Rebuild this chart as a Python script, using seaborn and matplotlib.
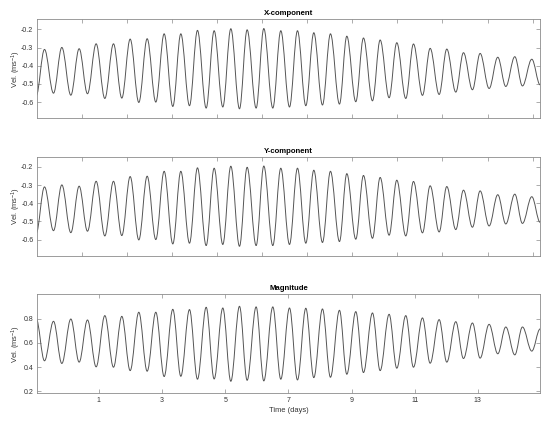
import numpy as np
import pandas as pd
import matplotlib
matplotlib.use("Agg")
import matplotlib.pyplot as plt
from matplotlib.path import Path
from matplotlib.patches import PathPatch
import seaborn as sns

# ---------------- data ----------------
# times (days) of the minima / maxima of the X and Y components
x_trough_days = [-0.984, -0.435, 0.114, 0.641, 1.190, 1.728, 2.266, 2.804, 3.342, 3.870,
                 4.398, 4.925, 5.453, 5.980, 6.508, 7.036, 7.553, 8.080, 8.618, 9.135,
                 9.663, 10.190, 10.718, 11.246, 11.774, 12.301, 12.828, 13.356, 13.884,
                 14.411, 14.971]
x_peak_days = [-0.720, -0.171, 0.377, 0.915, 1.464, 1.992, 2.530, 3.068, 3.596, 4.123,
               4.651, 5.179, 5.695, 6.223, 6.761, 7.289, 7.806, 8.333, 8.851, 9.378,
               9.906, 10.433, 10.961, 11.489, 12.016, 12.544, 13.071, 13.630, 14.169,
               14.707]

x_trough_vals = [-0.565, -0.551, -0.562, -0.554, -0.580, -0.578, -0.602, -0.600, -0.624,
                 -0.620, -0.633, -0.627, -0.637, -0.633, -0.633, -0.627, -0.620, -0.616,
                 -0.611, -0.598, -0.593, -0.576, -0.580, -0.563, -0.558, -0.545, -0.532,
                 -0.525, -0.514, -0.511, -0.505]
x_peak_vals = [-0.310, -0.299, -0.306, -0.279, -0.279, -0.253, -0.251, -0.224, -0.224,
               -0.205, -0.207, -0.196, -0.202, -0.195, -0.207, -0.207, -0.218, -0.224,
               -0.237, -0.247, -0.258, -0.273, -0.280, -0.304, -0.308, -0.328, -0.332,
               -0.353, -0.350, -0.364]

y_trough_vals = [-0.565, -0.551, -0.562, -0.554, -0.580, -0.578, -0.602, -0.600, -0.624,
                 -0.620, -0.633, -0.627, -0.637, -0.633, -0.633, -0.627, -0.620, -0.616,
                 -0.611, -0.598, -0.593, -0.576, -0.580, -0.563, -0.558, -0.545, -0.532,
                 -0.525, -0.514, -0.511, -0.505]
y_peak_vals = [-0.310, -0.299, -0.306, -0.279, -0.279, -0.253, -0.251, -0.224, -0.224,
               -0.205, -0.207, -0.196, -0.202, -0.195, -0.207, -0.207, -0.218, -0.224,
               -0.237, -0.247, -0.258, -0.273, -0.280, -0.304, -0.308, -0.328, -0.332,
               -0.353, -0.350, -0.364]

# magnitude: maxima occur at the X-minimum times, minima at the X-maximum times
mag_max_days = x_trough_days
mag_min_days = x_peak_days
mag_max_vals = [0.800, 0.778, 0.797, 0.789, 0.825, 0.819, 0.853, 0.853, 0.877, 0.875,
                0.894, 0.888, 0.902, 0.897, 0.897, 0.888, 0.886, 0.880, 0.869, 0.858,
                0.847, 0.836, 0.825, 0.806, 0.792, 0.775, 0.764, 0.753, 0.731, 0.731,
                0.715]
mag_min_vals = [0.452, 0.430, 0.441, 0.402, 0.399, 0.371, 0.366, 0.322, 0.324, 0.300,
                0.302, 0.283, 0.291, 0.286, 0.300, 0.294, 0.313, 0.316, 0.341, 0.355,
                0.371, 0.391, 0.399, 0.432, 0.441, 0.471, 0.474, 0.510, 0.501, 0.532]

titles = ["X-component", "Y-component", "Magnitude"]
xtick_days = [1, 3, 5, 7, 9, 11, 13]
xtick_labels = ["1", "3", "5", "7", "9", "11", "13"]
top_xticks = [0.46, 1.89, 3.31, 4.74, 6.16, 7.59, 9.01, 10.43, 11.86, 13.31, 14.74]
comp_yticks = [-0.6, -0.5, -0.4, -0.3, -0.2]
comp_yticklabels = ["-0.6", "-0.5", "-0.4", "-0.3", "-0.2"]
mag_yticks = [0.2, 0.4, 0.6, 0.8]
mag_yticklabels = ["0.2", "0.4", "0.6", "0.8"]


def interleave(d1, v1, d2, v2):
    """Merge two extremum series (alternating) into one time-ordered table."""
    df = pd.DataFrame({"day": list(d1) + list(d2), "vel": list(v1) + list(v2)})
    return df.sort_values("day").reset_index(drop=True)


def smooth_path(df):
    """Smooth curve through the extrema (horizontal tangent at each extremum)."""
    t = df["day"].to_numpy()
    v = df["vel"].to_numpy()
    verts = [(t[0], v[0])]
    codes = [Path.MOVETO]
    k = 0.363
    for i in range(len(t) - 1):
        dt = t[i + 1] - t[i]
        verts += [(t[i] + k * dt, v[i]), (t[i + 1] - k * dt, v[i + 1]), (t[i + 1], v[i + 1])]
        codes += [Path.CURVE4] * 3
    return Path(verts, codes)


series = [
    interleave(x_trough_days, x_trough_vals, x_peak_days, x_peak_vals),
    interleave(x_trough_days, y_trough_vals, x_peak_days, y_peak_vals),
    interleave(mag_max_days, mag_max_vals, mag_min_days, mag_min_vals),
]

# ---------------- style ----------------
sns.set_theme(style="ticks")
plt.rcParams["font.family"] = ["Liberation Sans", "DejaVu Sans"]
plt.rcParams["mathtext.fontset"] = "custom"
plt.rcParams["mathtext.rm"] = "Liberation Sans"

fig = plt.figure(figsize=(5.5, 4.23), dpi=100)
fig.patch.set_facecolor("white")

left, width = 0.067, 0.915
bottoms = [0.720, 0.395, 0.070]
height = 0.234
line_color = "#555555"
spine_color = "#8c8c8c"
label_color = "#333333"

ylims = [(-0.69, -0.145), (-0.69, -0.145), (0.183, 1.0)]

for i, df in enumerate(series):
    ax = fig.add_axes([left, bottoms[i], width, height])
    ax.set_facecolor("white")
    patch = PathPatch(smooth_path(df), facecolor="none", edgecolor=line_color, lw=0.7)
    ax.add_patch(patch)
    ax.set_xlim(-0.962, 14.97)
    ax.set_ylim(*ylims[i])

    for s in ax.spines.values():
        s.set_visible(True)
        s.set_color(spine_color)
        s.set_linewidth(0.6)

    ax.tick_params(direction="in", length=3, width=0.5, color=spine_color,
                   labelsize=5, labelcolor=label_color, pad=2.5,
                   top=True, right=True, bottom=True, left=True)

    if i < 2:
        ax.set_xticks(top_xticks)
        ax.set_xticklabels([])
        ax.set_yticks(comp_yticks)
        ax.set_yticklabels(comp_yticklabels)
    else:
        ax.set_xticks(xtick_days)
        ax.set_xticklabels(xtick_labels)
        ax.set_yticks(mag_yticks)
        ax.set_yticklabels(mag_yticklabels)
        ax.set_xlabel("Time (days)", fontsize=5.4, color=label_color, labelpad=2)

    ax.set_ylabel(r"Vel. (ms$^{-1}$)", fontsize=5.4, color=label_color, labelpad=3)
    ax.yaxis.set_label_coords(-0.028, 0.5)
    ax.set_title(titles[i], fontsize=5.6, fontweight="bold", color="black", pad=3)

fig.savefig("out.png", dpi=100, facecolor="white")
